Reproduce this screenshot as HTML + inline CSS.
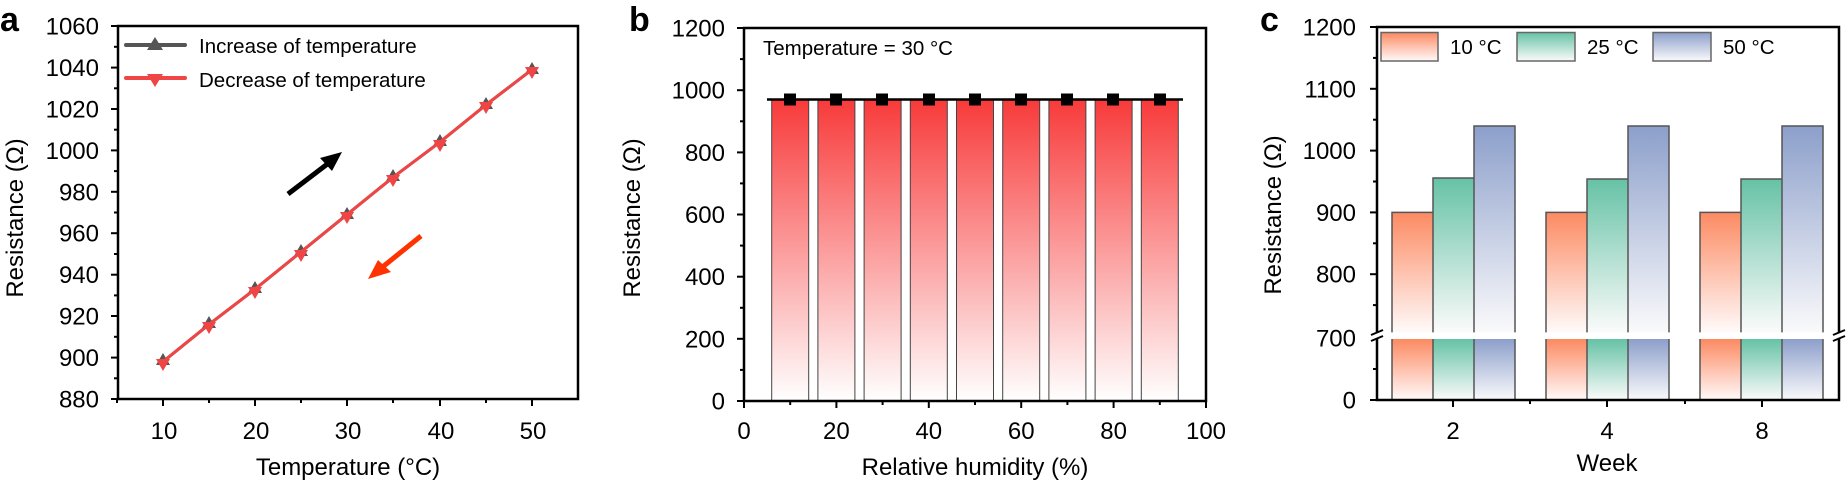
<!DOCTYPE html>
<html><head><meta charset="utf-8"><style>
html,body{margin:0;padding:0;background:#fff}
svg{display:block}
text{font-family:"Liberation Sans",Arial,sans-serif;fill:#000}
.t{font-size:24px}
.ti{font-size:24px}
.lg{font-size:20.5px}
</style></head><body>
<svg width="1847" height="482" viewBox="0 0 1847 482" xmlns="http://www.w3.org/2000/svg">
<defs>
<linearGradient id="gr" x1="0" y1="0" x2="0" y2="1"><stop offset="0" stop-color="#f83a3a"/><stop offset="1" stop-color="#ffffff"/></linearGradient>
<linearGradient id="go" x1="0" y1="0" x2="0" y2="1"><stop offset="0" stop-color="#fc8a62"/><stop offset="1" stop-color="#fffafa"/></linearGradient>
<linearGradient id="gg" x1="0" y1="0" x2="0" y2="1"><stop offset="0" stop-color="#66c2a5"/><stop offset="1" stop-color="#fbfbfb"/></linearGradient>
<linearGradient id="gb" x1="0" y1="0" x2="0" y2="1"><stop offset="0" stop-color="#8c9fcb"/><stop offset="1" stop-color="#fafafb"/></linearGradient>
</defs>

<!-- ========== Panel a ========== -->
<text x="0" y="31" style="font-size:34px;font-weight:bold">a</text>
<g stroke="#000" stroke-width="2.5" fill="none">
<rect x="118" y="26" width="460" height="373"/>
</g>
<g stroke="#000" stroke-width="2">
<line x1="111" y1="26" x2="118" y2="26"/><line x1="111" y1="67.6" x2="118" y2="67.6"/><line x1="111" y1="109" x2="118" y2="109"/><line x1="111" y1="150.4" x2="118" y2="150.4"/><line x1="111" y1="191.8" x2="118" y2="191.8"/><line x1="111" y1="233.2" x2="118" y2="233.2"/><line x1="111" y1="274.7" x2="118" y2="274.7"/><line x1="111" y1="316" x2="118" y2="316"/><line x1="111" y1="357.6" x2="118" y2="357.6"/><line x1="111" y1="399" x2="118" y2="399"/>
<line x1="114" y1="46.8" x2="118" y2="46.8"/><line x1="114" y1="88.3" x2="118" y2="88.3"/><line x1="114" y1="129.7" x2="118" y2="129.7"/><line x1="114" y1="171.1" x2="118" y2="171.1"/><line x1="114" y1="212.5" x2="118" y2="212.5"/><line x1="114" y1="254" x2="118" y2="254"/><line x1="114" y1="295.4" x2="118" y2="295.4"/><line x1="114" y1="336.8" x2="118" y2="336.8"/><line x1="114" y1="378.3" x2="118" y2="378.3"/>
<line x1="163" y1="399" x2="163" y2="406"/><line x1="255" y1="399" x2="255" y2="406"/><line x1="347" y1="399" x2="347" y2="406"/><line x1="440" y1="399" x2="440" y2="406"/><line x1="532" y1="399" x2="532" y2="406"/>
<line x1="209" y1="399" x2="209" y2="403"/><line x1="301" y1="399" x2="301" y2="403"/><line x1="393" y1="399" x2="393" y2="403"/><line x1="486" y1="399" x2="486" y2="403"/><line x1="117" y1="399" x2="117" y2="403"/>
</g>
<g class="t" text-anchor="end">
<text x="99" y="34.5">1060</text><text x="99" y="76.1">1040</text><text x="99" y="117.5">1020</text><text x="99" y="158.9">1000</text><text x="99" y="200.3">980</text><text x="99" y="241.7">960</text><text x="99" y="283.2">940</text><text x="99" y="324.5">920</text><text x="99" y="366.1">900</text><text x="99" y="407.5">880</text>
</g>
<g class="t" text-anchor="middle">
<text x="164" y="439">10</text><text x="256" y="439">20</text><text x="348" y="439">30</text><text x="441" y="439">40</text><text x="533" y="439">50</text>
</g>
<text class="ti" x="348" y="475" text-anchor="middle">Temperature (°C)</text>
<text class="ti" transform="translate(23,218) rotate(-90)" text-anchor="middle">Resistance (Ω)</text>
<!-- series -->
<polyline points="163,361.7 209,324.4 255,289.2 301,251.9 347,214.6 393,177.3 440,142.1 486,104.8 532,69.6" fill="none" stroke="#555" stroke-width="3"/>
<g fill="#555">
<path d="M163,353 l7,12 h-14z"/><path d="M209,316 l7,12 h-14z"/><path d="M255,281 l7,12 h-14z"/><path d="M301,244 l7,12 h-14z"/><path d="M347,207 l7,12 h-14z"/><path d="M393,169 l7,12 h-14z"/><path d="M440,134 l7,12 h-14z"/><path d="M486,97 l7,12 h-14z"/><path d="M532,62 l7,12 h-14z"/>
</g>
<polyline points="163,361.7 209,324.4 255,289.2 301,251.9 347,214.6 393,177.3 440,142.1 486,104.8 532,69.6" fill="none" stroke="#f04545" stroke-width="3"/>
<g fill="#f04545">
<path d="M163,371 l7,-12 h-14z"/><path d="M209,334 l7,-12 h-14z"/><path d="M255,299 l7,-12 h-14z"/><path d="M301,262 l7,-12 h-14z"/><path d="M347,224 l7,-12 h-14z"/><path d="M393,187 l7,-12 h-14z"/><path d="M440,152 l7,-12 h-14z"/><path d="M486,114 l7,-12 h-14z"/><path d="M532,79 l7,-12 h-14z"/>
</g>
<!-- legend -->
<line x1="126" y1="45" x2="185" y2="45" stroke="#555" stroke-width="4" stroke-linecap="round"/>
<path d="M155,37 l8,13 h-16z" fill="#555"/>
<text class="lg" x="199" y="53">Increase of temperature</text>
<line x1="126" y1="78" x2="185" y2="78" stroke="#f04545" stroke-width="4" stroke-linecap="round"/>
<path d="M155,87 l8,-13 h-16z" fill="#f04545"/>
<text class="lg" x="199" y="87">Decrease of temperature</text>
<!-- arrows -->
<line x1="288" y1="194" x2="330" y2="162" stroke="#000" stroke-width="5"/>
<path d="M342,152 L320,158 L332,171 Z" fill="#000"/>
<line x1="421" y1="236" x2="380" y2="269" stroke="#ff3300" stroke-width="5"/>
<path d="M368,279 L378,260 L391,272 Z" fill="#ff3300"/>

<!-- ========== Panel b ========== -->
<text x="629" y="31" style="font-size:34px;font-weight:bold">b</text>
<g stroke="#444" stroke-width="1">
<rect x="771.7" y="99.5" width="37" height="301.5" fill="url(#gr)"/>
<rect x="817.9" y="99.5" width="37" height="301.5" fill="url(#gr)"/>
<rect x="864.1" y="99.5" width="37" height="301.5" fill="url(#gr)"/>
<rect x="910.3" y="99.5" width="37" height="301.5" fill="url(#gr)"/>
<rect x="956.5" y="99.5" width="37" height="301.5" fill="url(#gr)"/>
<rect x="1002.7" y="99.5" width="37" height="301.5" fill="url(#gr)"/>
<rect x="1048.9" y="99.5" width="37" height="301.5" fill="url(#gr)"/>
<rect x="1095.1" y="99.5" width="37" height="301.5" fill="url(#gr)"/>
<rect x="1141.3" y="99.5" width="37" height="301.5" fill="url(#gr)"/>
</g>
<line x1="767" y1="99.5" x2="1183" y2="99.5" stroke="#000" stroke-width="2.5"/>
<g fill="#000">
<rect x="784" y="93.5" width="12" height="12"/><rect x="830" y="93.5" width="12" height="12"/><rect x="876" y="93.5" width="12" height="12"/><rect x="923" y="93.5" width="12" height="12"/><rect x="969" y="93.5" width="12" height="12"/><rect x="1015" y="93.5" width="12" height="12"/><rect x="1061" y="93.5" width="12" height="12"/><rect x="1107" y="93.5" width="12" height="12"/><rect x="1154" y="93.5" width="12" height="12"/>
</g>
<rect x="744" y="28" width="462" height="373" fill="none" stroke="#000" stroke-width="2.5"/>
<g stroke="#000" stroke-width="2">
<line x1="737" y1="28" x2="744" y2="28"/><line x1="737" y1="90.2" x2="744" y2="90.2"/><line x1="737" y1="152.4" x2="744" y2="152.4"/><line x1="737" y1="214.5" x2="744" y2="214.5"/><line x1="737" y1="276.7" x2="744" y2="276.7"/><line x1="737" y1="338.8" x2="744" y2="338.8"/><line x1="737" y1="401" x2="744" y2="401"/>
<line x1="740" y1="59.1" x2="744" y2="59.1"/><line x1="740" y1="121.3" x2="744" y2="121.3"/><line x1="740" y1="183.4" x2="744" y2="183.4"/><line x1="740" y1="245.6" x2="744" y2="245.6"/><line x1="740" y1="307.8" x2="744" y2="307.8"/><line x1="740" y1="369.9" x2="744" y2="369.9"/>
<line x1="744" y1="401" x2="744" y2="408"/><line x1="836.4" y1="401" x2="836.4" y2="408"/><line x1="928.8" y1="401" x2="928.8" y2="408"/><line x1="1021.2" y1="401" x2="1021.2" y2="408"/><line x1="1113.6" y1="401" x2="1113.6" y2="408"/><line x1="1206" y1="401" x2="1206" y2="408"/>
<line x1="790.2" y1="401" x2="790.2" y2="405"/><line x1="882.6" y1="401" x2="882.6" y2="405"/><line x1="975" y1="401" x2="975" y2="405"/><line x1="1067.4" y1="401" x2="1067.4" y2="405"/><line x1="1159.8" y1="401" x2="1159.8" y2="405"/>
</g>
<g class="t" text-anchor="end">
<text x="725" y="36.5">1200</text><text x="725" y="98.7">1000</text><text x="725" y="160.9">800</text><text x="725" y="223">600</text><text x="725" y="285.2">400</text><text x="725" y="347.3">200</text><text x="725" y="409.5">0</text>
</g>
<g class="t" text-anchor="middle">
<text x="744" y="439">0</text><text x="836.4" y="439">20</text><text x="928.8" y="439">40</text><text x="1021.2" y="439">60</text><text x="1113.6" y="439">80</text><text x="1206" y="439">100</text>
</g>
<text class="lg" x="763" y="55">Temperature = 30 °C</text>
<text class="ti" x="975" y="475" text-anchor="middle">Relative humidity (%)</text>
<text class="ti" transform="translate(640,218) rotate(-90)" text-anchor="middle">Resistance (Ω)</text>

<!-- ========== Panel c ========== -->
<text x="1260" y="31" style="font-size:34px;font-weight:bold">c</text>
<g stroke="#555" stroke-width="1.5">
<rect x="1392" y="212.4" width="41" height="120" fill="url(#go)" stroke="none"/>
<rect x="1433" y="178" width="41" height="154.4" fill="url(#gg)" stroke="none"/>
<rect x="1474" y="126" width="41" height="206.4" fill="url(#gb)" stroke="none"/>
<rect x="1546" y="212.4" width="41" height="120" fill="url(#go)" stroke="none"/>
<rect x="1587" y="179" width="41" height="153.4" fill="url(#gg)" stroke="none"/>
<rect x="1628" y="126" width="41" height="206.4" fill="url(#gb)" stroke="none"/>
<rect x="1700" y="212.4" width="41" height="120" fill="url(#go)" stroke="none"/>
<rect x="1741" y="179" width="41" height="153.4" fill="url(#gg)" stroke="none"/>
<rect x="1782" y="126" width="41" height="206.4" fill="url(#gb)" stroke="none"/>
<path fill="none" d="M1392,332.4 V212.4 H1433 V332.4 M1433,212.4 V178 H1474 V332.4 M1474,178 V126 H1515 V332.4"/>
<path fill="none" d="M1546,332.4 V212.4 H1587 V332.4 M1587,212.4 V179 H1628 V332.4 M1628,179 V126 H1669 V332.4"/>
<path fill="none" d="M1700,332.4 V212.4 H1741 V332.4 M1741,212.4 V179 H1782 V332.4 M1782,179 V126 H1823 V332.4"/>
<rect x="1392" y="339" width="41" height="61" fill="url(#go)" stroke="none"/>
<rect x="1433" y="339" width="41" height="61" fill="url(#gg)" stroke="none"/>
<rect x="1474" y="339" width="41" height="61" fill="url(#gb)" stroke="none"/>
<rect x="1546" y="339" width="41" height="61" fill="url(#go)" stroke="none"/>
<rect x="1587" y="339" width="41" height="61" fill="url(#gg)" stroke="none"/>
<rect x="1628" y="339" width="41" height="61" fill="url(#gb)" stroke="none"/>
<rect x="1700" y="339" width="41" height="61" fill="url(#go)" stroke="none"/>
<rect x="1741" y="339" width="41" height="61" fill="url(#gg)" stroke="none"/>
<rect x="1782" y="339" width="41" height="61" fill="url(#gb)" stroke="none"/>
<path fill="none" d="M1392,339 V400 M1433,339 V400 M1474,339 V400 M1515,339 V400 M1546,339 V400 M1587,339 V400 M1628,339 V400 M1669,339 V400 M1700,339 V400 M1741,339 V400 M1782,339 V400 M1823,339 V400"/>
</g>
<g stroke="#000" stroke-width="2.5" fill="none">
<path d="M1377,333 V27 H1839 V333"/>
<path d="M1377,339 V400 H1839 V339"/>
</g>
<g stroke="#000" stroke-width="2">
<line x1="1371" y1="335" x2="1383" y2="330"/><line x1="1371" y1="341" x2="1383" y2="336"/>
<line x1="1833" y1="335" x2="1845" y2="330"/><line x1="1833" y1="341" x2="1845" y2="336"/>
<line x1="1370" y1="27" x2="1377" y2="27"/><line x1="1370" y1="88.8" x2="1377" y2="88.8"/><line x1="1370" y1="150.6" x2="1377" y2="150.6"/><line x1="1370" y1="212.4" x2="1377" y2="212.4"/><line x1="1370" y1="274.2" x2="1377" y2="274.2"/><line x1="1370" y1="400" x2="1377" y2="400"/>
<line x1="1373" y1="57.9" x2="1377" y2="57.9"/><line x1="1373" y1="119.7" x2="1377" y2="119.7"/><line x1="1373" y1="181.5" x2="1377" y2="181.5"/><line x1="1373" y1="243.3" x2="1377" y2="243.3"/><line x1="1373" y1="305.1" x2="1377" y2="305.1"/><line x1="1373" y1="369" x2="1377" y2="369"/>
<line x1="1453" y1="400" x2="1453" y2="407"/><line x1="1607" y1="400" x2="1607" y2="407"/><line x1="1762" y1="400" x2="1762" y2="407"/>
<line x1="1530" y1="400" x2="1530" y2="404"/><line x1="1685" y1="400" x2="1685" y2="404"/>
</g>
<g class="t" text-anchor="end">
<text x="1356" y="35.5">1200</text><text x="1356" y="97.3">1100</text><text x="1356" y="159.1">1000</text><text x="1356" y="220.9">900</text><text x="1356" y="282.7">800</text><text x="1356" y="346.5">700</text><text x="1356" y="408.5">0</text>
</g>
<g class="t" text-anchor="middle">
<text x="1453" y="439">2</text><text x="1607" y="439">4</text><text x="1762" y="439">8</text>
</g>
<text class="ti" x="1607" y="471" text-anchor="middle">Week</text>
<text class="ti" transform="translate(1281,215) rotate(-90)" text-anchor="middle">Resistance (Ω)</text>
<g stroke="#666" stroke-width="1.5">
<rect x="1381" y="32.5" width="57" height="28.5" fill="url(#go)"/>
<rect x="1517" y="32.5" width="58" height="28.5" fill="url(#gg)"/>
<rect x="1653" y="32.5" width="58" height="28.5" fill="url(#gb)"/>
</g>
<g class="lg">
<text x="1450" y="54">10 °C</text><text x="1587" y="54">25 °C</text><text x="1723" y="54">50 °C</text>
</g>
</svg>
</body></html>
